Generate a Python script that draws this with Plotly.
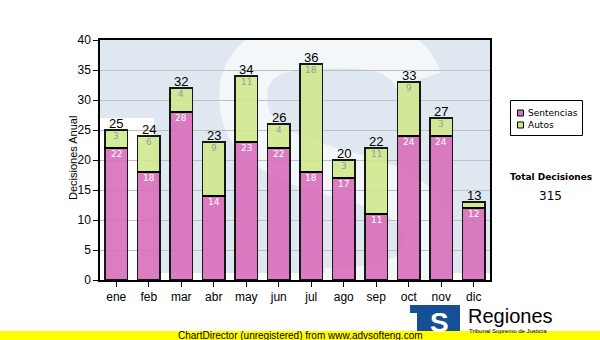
import base64
import plotly.graph_objects as go

# Monthly decisions, split into sentences and rulings
months = ["ene", "feb", "mar", "abr", "may", "jun", "jul", "ago", "sep", "oct", "nov", "dic"]
sentencias = [22, 18, 28, 14, 23, 22, 18, 17, 11, 24, 24, 12]
autos = [3, 6, 4, 9, 11, 4, 18, 3, 11, 9, 3, 1]
totals = [s + a for s, a in zip(sentencias, autos)]
y_ticks = [0, 5, 10, 15, 20, 25, 30, 35, 40]

PINK = "#d96fbc"
GREEN = "#d0e98f"
ARIAL = "Arial, Liberation Sans, sans-serif"
VERDANA = "Verdana, DejaVu Sans, sans-serif"

W, H = 600, 340
L, R, T, B = 100, 110, 40, 60
PW, PH = W - L - R, H - T - B


def px(x):
    return (x - L) / PW


def py(y):
    return (H - B - y) / PH


# Faded logo drawn behind the plot area
wm_svg = (
    '<svg xmlns="http://www.w3.org/2000/svg" width="390" height="240" viewBox="0 0 390 240">'
    '<rect width="390" height="240" fill="#ffffff"/>'
    '<rect x="0" y="0" width="390" height="78" fill="#dfe8f1"/>'
    '<rect x="54" y="78" width="336" height="155" fill="#dfe8f1"/>'
    '<path d="M 318,40 C 305,0 250,2 200,6 C 150,10 138,40 145,72 C 152,110 205,125 262,140 '
    'C 315,154 338,182 326,216 C 316,242 280,252 225,252" stroke="#f4f7fa" stroke-width="48" '
    'fill="none" stroke-linecap="butt"/>'
    '</svg>'
)
wm_uri = "data:image/svg+xml;base64," + base64.b64encode(wm_svg.encode()).decode()

fig = go.Figure()
fig.add_trace(go.Bar(
    x=months, y=sentencias, name="Sentencias",
    marker=dict(color=PINK, opacity=0.9, line=dict(color="black", width=1.5)),
    showlegend=False, hoverinfo="skip",
))
fig.add_trace(go.Bar(
    x=months, y=autos, name="Autos",
    marker=dict(color=GREEN, opacity=0.9, line=dict(color="black", width=1.5)),
    showlegend=False, hoverinfo="skip",
))

annotations = []
for m, s, a, t in zip(months, sentencias, autos, totals):
    annotations.append(dict(x=m, y=t, text=str(t), showarrow=False, yanchor="bottom",
                            yshift=-3, font=dict(family=ARIAL, size=13, color="black")))
    if s >= 2:
        annotations.append(dict(x=m, y=s, text=str(s), showarrow=False, yanchor="top",
                                yshift=1, font=dict(family=VERDANA, size=9, color="white")))
    if a >= 2:
        annotations.append(dict(x=m, y=t, text=str(a), showarrow=False, yanchor="top",
                                yshift=1, font=dict(family=VERDANA, size=9, color="#9a9a9a")))

# Axis title
annotations.append(dict(xref="paper", yref="paper", x=px(73), y=py(158), text="Decisiones Anual",
                        textangle=-90, showarrow=False, xanchor="center", yanchor="middle",
                        font=dict(family=ARIAL, size=11, color="black")))

# Legend entries
legend_items = [("Sentencias", PINK, 113), ("Autos", GREEN, 125)]
shapes = [dict(type="rect", xref="paper", yref="paper", x0=px(510.5), x1=px(582.5),
               y0=py(100.5), y1=py(135.5), line=dict(color="black", width=1), fillcolor="white")]
for name, col, yc in legend_items:
    shapes.append(dict(type="rect", xref="paper", yref="paper", x0=px(517.5), x1=px(523.5),
                       y0=py(yc - 3), y1=py(yc + 3), line=dict(color="black", width=1), fillcolor=col))
    annotations.append(dict(xref="paper", yref="paper", x=px(526), y=py(yc), text=name,
                            showarrow=False, xanchor="left", yanchor="middle",
                            font=dict(family=VERDANA, size=9, color="black")))

# Total summary
annotations.append(dict(xref="paper", yref="paper", x=px(551), y=py(177), text="<b>Total Decisiones</b>",
                        showarrow=False, xanchor="center", yanchor="middle",
                        font=dict(family=VERDANA, size=9, color="black")))
annotations.append(dict(xref="paper", yref="paper", x=px(550), y=py(196), text=str(sum(totals)),
                        showarrow=False, xanchor="center", yanchor="middle",
                        font=dict(family=VERDANA, size=12, color="black")))

# Footer logo
LOGO_BLUE = "#174f96"
shapes.append(dict(type="rect", xref="paper", yref="paper", x0=px(410), x1=px(460),
                   y0=py(313), y1=py(305), line=dict(width=0), fillcolor=LOGO_BLUE))
shapes.append(dict(type="rect", xref="paper", yref="paper", x0=px(417), x1=px(460),
                   y0=py(331), y1=py(312), line=dict(width=0), fillcolor=LOGO_BLUE))
annotations.append(dict(xref="paper", yref="paper", x=px(439), y=py(322), text="<b>S</b>",
                        showarrow=False, xanchor="center", yanchor="middle",
                        font=dict(family=ARIAL, size=28, color="white")))
annotations.append(dict(xref="paper", yref="paper", x=px(467), y=py(316), text="Regiones",
                        showarrow=False, xanchor="left", yanchor="middle", borderpad=0,
                        font=dict(family=ARIAL, size=20, color="black")))
annotations.append(dict(xref="paper", yref="paper", x=px(468), y=py(334.5), text="Tribunal Supremo de Justicia",
                        showarrow=False, xanchor="left", yanchor="bottom", borderpad=0,
                        font=dict(family=ARIAL, size=6, color="black")))

# Unregistered banner across the bottom
shapes.append(dict(type="rect", xref="paper", yref="paper", x0=px(0), x1=px(600),
                   y0=py(340), y1=py(331), line=dict(width=0), fillcolor="#ffff00"))
annotations.append(dict(xref="paper", yref="paper", x=px(300), y=py(335.5),
                        text="ChartDirector (unregistered) from www.advsofteng.com",
                        showarrow=False, xanchor="center", yanchor="middle",
                        font=dict(family=ARIAL, size=10, color="black")))

fig.update_layout(
    width=W, height=H,
    margin=dict(l=L, r=R, t=T, b=B),
    paper_bgcolor="white",
    plot_bgcolor="rgba(0,0,0,0)",
    barmode="stack",
    bargap=0.3,
    showlegend=False,
    annotations=annotations,
    shapes=shapes,
    images=[dict(source=wm_uri, xref="paper", yref="paper", x=0, y=1, sizex=1, sizey=1,
                 xanchor="left", yanchor="top", sizing="stretch", layer="below")],
    xaxis=dict(
        showline=True, linecolor="black", linewidth=1.5, mirror=True,
        ticks="outside", ticklen=5, tickcolor="black", tickwidth=1,
        tickfont=dict(family=ARIAL, size=12, color="black"),
        showgrid=False, fixedrange=True,
    ),
    yaxis=dict(
        range=[0, 40], tickvals=y_ticks,
        showline=True, linecolor="black", linewidth=1.5, mirror=True,
        ticks="outside", ticklen=5, tickcolor="black", tickwidth=1,
        tickfont=dict(family=ARIAL, size=12, color="black"),
        showgrid=True, gridcolor="#c0c0c0", gridwidth=1,
        zeroline=False, fixedrange=True,
    ),
)

fig.write_html("out.html")
